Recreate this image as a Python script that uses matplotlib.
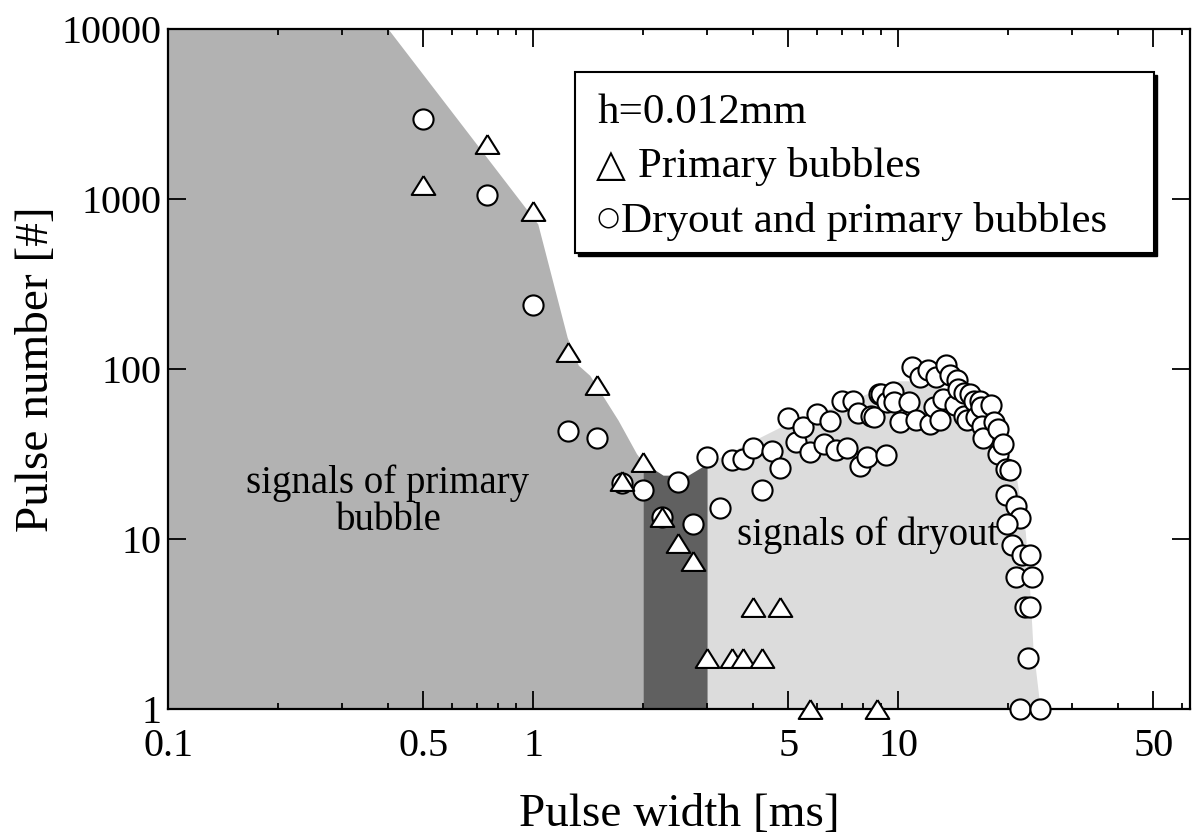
import numpy as np
import matplotlib
matplotlib.use('Agg')
import matplotlib.pyplot as plt
from matplotlib.patches import Rectangle
from matplotlib.ticker import FixedLocator, NullLocator, LogLocator, NullFormatter

# ---- data ----
# primary bubbles (triangles)
tri_x = [0.5, 0.75, 1.0, 1.25, 1.5, 1.75, 2.0, 2.25, 2.5, 2.75,
         3.0, 3.5, 3.75, 4.0, 4.25, 4.75, 5.75, 8.75]
tri_y = [1200, 2100, 850, 125, 80, 22, 28.5, 13.5, 9.5, 7.4,
         2, 2, 2, 4, 2, 4, 1, 1]

# dryout and primary bubbles (circles)
dry_x = [0.5, 0.75, 1.0, 1.25, 1.5, 1.75, 2.0, 2.25, 2.5, 2.75,
         3.0, 3.25, 3.5, 3.75, 4.0, 4.25, 4.5, 4.75, 5.0, 5.25,
         5.5, 5.75, 6.0, 6.25, 6.5, 6.75, 7.0, 7.25, 7.5, 7.75,
         7.85, 8.2, 8.45, 8.6, 8.85, 9.0, 9.25, 9.3, 9.7, 9.75,
         10.1, 10.7, 10.9, 11.2, 11.5, 12.1, 12.2, 12.5, 12.7, 13.0,
         13.3, 13.5, 13.9, 14.3, 14.5, 14.6, 15.1, 15.1, 15.4, 15.7,
         16.1, 16.3, 16.8, 16.9, 17.0, 17.1, 18.0, 18.3, 18.8, 18.8,
         19.4, 19.7, 20.3, 19.7, 21.0, 21.6, 19.9, 20.5, 21.8, 23.0,
         21.0, 23.3, 22.3, 23.0, 22.7, 21.6, 24.5]
dry_y = [2950, 1050, 236, 43, 39, 21.4, 19.5, 13.5, 21.6, 12.3,
         30.5, 15.2, 29.2, 29.5, 34, 19.3, 33, 26, 51.6, 37,
         45.5, 32.5, 54.5, 36.3, 49.3, 33.2, 64.6, 34, 65, 55,
         27, 30.5, 53, 52, 71, 71, 31, 63.7, 73, 64,
         48.7, 64, 102, 50, 89, 98, 47.5, 60, 89, 50,
         66.7, 105, 92, 61, 86, 76, 72, 53, 50, 71,
         65, 52, 65, 60, 46, 39, 61, 48.7, 44, 31.6,
         36, 25.9, 25.5, 18, 15.7, 13.2, 12.3, 9.2, 8.0, 8.0,
         6.0, 6.0, 4.0, 4.0, 2.0, 1, 1]

# shaded regions (upper boundaries)
prim_x = [0.1, 0.4, 1.03, 1.24, 1.33, 1.43, 1.71, 1.92, 2.0]
prim_top = [10000, 10000, 711, 153, 105, 91.5, 49.8, 31.7, 28.2]
both_x = [2.0, 2.27, 2.66, 3.0]
both_top = [28.2, 23.7, 23.7, 27.7]
dryreg_x = [3.0, 3.47, 4.75, 7.0, 10.0, 12.5, 15.0, 20.0, 21.1, 22.3, 23.0, 23.4, 24.5]
dryreg_top = [27.7, 32.4, 45.4, 62, 85, 85, 58, 32, 22.6, 11, 4.5, 2.3, 1]

xticks = [0.1, 0.5, 1, 5, 10, 50]
xticklabels = ['0.1', '0.5', '1', '5', '10', '50']
yticks = [1, 10, 100, 1000, 10000]
yticklabels = ['1', '10', '100', '1000', '10000']

plt.rcParams['font.family'] = ['Liberation Serif', 'DejaVu Sans']

fig = plt.figure(figsize=(11.95, 8.36), dpi=100)
ax = fig.add_axes([0.1406, 0.1519, 0.8552, 0.8139])
ax.set_xscale('log')
ax.set_yscale('log')
ax.set_xlim(0.1, 63)
ax.set_ylim(1, 10000)

ax.fill_between(prim_x, 1, prim_top, color='#b2b2b2', lw=0, zorder=0)
ax.fill_between(both_x, 1, both_top, color='#606060', lw=0, zorder=0)
ax.fill_between(dryreg_x, 1, dryreg_top, color='#dcdcdc', lw=0, zorder=0)

ax.plot(dry_x, dry_y, 'o', ms=14.5, mfc='white', mec='black', mew=1.5,
        clip_on=False, zorder=3)
tri = [(0, 0.8), (-1, -0.8), (1, -0.8), (0, 0.8)]
ax.plot(tri_x, tri_y, ls='none', marker=tri, ms=17, mfc='white', mec='black',
        mew=1.5, clip_on=False, zorder=4)

# ticks
ax.xaxis.set_major_locator(FixedLocator(xticks))
ax.set_xticklabels(xticklabels)
ax.xaxis.set_minor_locator(LogLocator(base=10, subs=[2, 3, 4, 6, 7, 8, 9]))
ax.xaxis.set_minor_formatter(NullFormatter())
ax.yaxis.set_major_locator(FixedLocator(yticks))
ax.set_yticklabels(yticklabels)
ax.yaxis.set_minor_locator(NullLocator())
ax.tick_params(which='major', direction='in', length=13, width=1.3,
               top=True, right=True, labelsize=29)
ax.tick_params(axis='x', which='major', pad=14)
ax.tick_params(axis='y', which='major', pad=5)
ax.tick_params(which='minor', direction='in', length=4.5, width=1.3, top=True)
for s in ax.spines.values():
    s.set_linewidth(1.6)

ax.set_xlabel('Pulse width [ms]', fontsize=34, labelpad=20)
ax.set_ylabel('Pulse number [#]', fontsize=34, labelpad=2)

# region labels
ax.text(0.2148, 0.3175, 'signals of primary', transform=ax.transAxes,
        fontsize=28, ha='center', va='baseline', zorder=2)
ax.text(0.2158, 0.263, 'bubble', transform=ax.transAxes,
        fontsize=28, ha='center', va='baseline', zorder=2)
ax.text(0.5568, 0.241, 'signals of dryout', transform=ax.transAxes,
        fontsize=28, ha='left', va='baseline', zorder=2)

# legend box with shadow
bx, by, bw, bh = 0.3982, 0.6702, 0.5666, 0.2656
ax.add_patch(Rectangle((bx + 0.003, by - 0.0045), bw, bh, transform=ax.transAxes,
                       facecolor='black', edgecolor='black', lw=1, zorder=5))
ax.add_patch(Rectangle((bx, by), bw, bh, transform=ax.transAxes,
                       facecolor='white', edgecolor='black', lw=1.5, zorder=6))
ax.text(0.4207, 0.8613, 'h=0.012mm', transform=ax.transAxes, fontsize=31,
        va='baseline', zorder=7)
ax.text(0.4188, 0.7835, '\u25b3', transform=ax.transAxes, fontsize=28,
        family=['DejaVu Sans'], va='baseline', zorder=7)
ax.text(0.4599, 0.7819, 'Primary bubbles', transform=ax.transAxes, fontsize=31,
        va='baseline', zorder=7)
ax.text(0.4195, 0.712, '\u25cb', transform=ax.transAxes, fontsize=19,
        family=['DejaVu Sans'], va='baseline', zorder=7)
ax.text(0.4432, 0.701, 'Dryout and primary bubbles', transform=ax.transAxes,
        fontsize=31, va='baseline', zorder=7)

fig.savefig('out.png', dpi=100)
